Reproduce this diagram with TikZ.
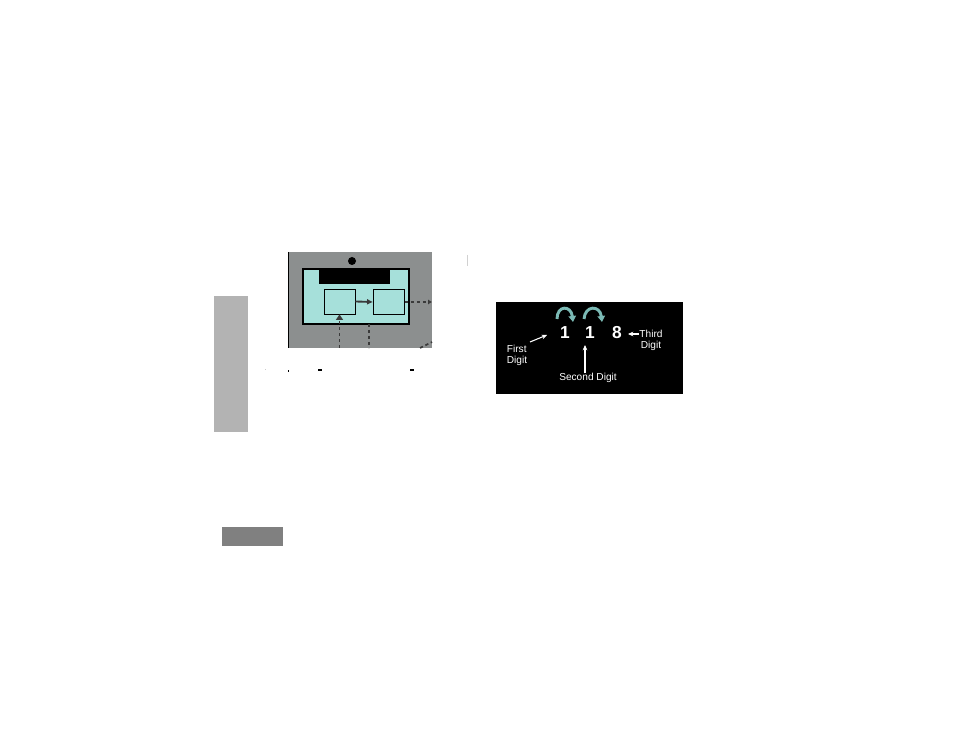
\documentclass[tikz,border=0pt]{standalone}
\usepackage{fontspec}
\setmainfont{Liberation Sans}
\usetikzlibrary{arrows,arrows.meta}
\usetikzlibrary{calc}
\definecolor{sidegray}{RGB}{179,179,179}
\definecolor{tabgray}{RGB}{128,128,128}
\definecolor{panelgray}{RGB}{140,143,143}
\definecolor{screencyan}{RGB}{166,224,218}
\definecolor{wiregray}{RGB}{58,58,58}
\definecolor{bendteal}{RGB}{123,186,181}
\colorlet{linegray}{sidegray!60}

\tikzset{
  inbox/.style={draw=black, fill=screencyan, inner sep=0pt, minimum width=23.5pt, minimum height=19pt},
  wire/.style={wiregray, line width=1.2pt, dash pattern=on 2.5pt off 2pt},
  digit/.style={white, inner sep=0pt, font=\fontsize{13}{14}\bfseries},
  lbl/.style={white, inner sep=0pt, font=\fontsize{7.6}{8.2}\selectfont},
  pointer/.style={white, line width=0.8pt, -{Stealth[length=4pt, width=3.5pt]}},
  turnarrow/.style={bendteal, line width=2.2pt, -{Triangle[length=4.5pt, width=5.5pt]}}
}

\begin{document}
\begin{tikzpicture}[x=0.75pt, y=-0.75pt]
    \useasboundingbox (0,0) rectangle (954,737);

    % side tab and bottom tab
    \fill[sidegray] (214,296) rectangle (248,432);
    \fill[tabgray] (222,527) rectangle (283,546);

    % left picture
    \fill[panelgray] (288,252) rectangle (432,348);
    \draw[black, line width=0.6pt] (288,252) -- (288,348);
    \fill[black] (352,261) circle (3pt);
    \draw[black, line width=0.8pt, fill=screencyan] (303,269) rectangle (409,324);
    \fill[black] (319,269) rectangle (390,284);
    \node[inbox] (boxa) at (339.5,301.5) {};
    \node[inbox] (boxb) at (389,302) {};
    \draw[wiregray, line width=1.4pt, -{Latex[length=4.5pt, width=4.5pt]}] (boxa.east) -- (boxb.west);
    \coordinate (outright) at (432,302);
    \draw[wire, -{Latex[length=3pt, width=4pt]}] (boxb.east) -- (outright);
    \coordinate (inbottom) at (339.5,348);
    \draw[wire, -{Triangle[length=4pt, width=5pt]}] (inbottom) -- (boxa.south);
    \draw[wire] (369,324) -- (369,348);
    \draw[wire] (420,348) -- (432,342);
    % cut off marks below
    \fill[black!20] (265,369) rectangle (266,370);
    \fill[black] (288,370) rectangle (289,372);
    \fill[black] (318,369) rectangle (322,371);
    \fill[black] (410,369) rectangle (414,371);
    \draw[linegray, line width=0.6pt] (467,255) -- (467,266);

    % right picture
    \fill[black] (496,302) rectangle (683,394);
    \node[digit] (da) at (565,333) {1};
    \node[digit] (db) at (590,333) {1};
    \node[digit] (dc) at (617,333) {8};

    \coordinate (bendastart) at (557,319);
    \coordinate (bendaend) at (573,322);
    \coordinate (bendbstart) at (584,319);
    \coordinate (bendbend) at (602,322);
    \draw[turnarrow] (bendastart) .. controls (557,305) and (571,305) .. (bendaend);
    \draw[turnarrow] (bendbstart) .. controls (585,305) and (600,305) .. (bendbend);

    \node[lbl, align=left] (lfirst) at (517,355) {First\\Digit};
    \node[lbl] (lsecond) at (588,378) {Second Digit};
    \node[lbl, align=center] (lthird) at (651,340) {Third\\Digit};

    \coordinate (firsttail) at (530,342);
    \coordinate (firsttip) at (547,335);
    \coordinate (secondtip) at (585,345);
    \coordinate (thirdtail) at (639,334);
    \coordinate (thirdtip) at (628,334);
    \draw[pointer] (firsttail) -- (firsttip);
    \draw[pointer] (lsecond.north -| secondtip) -- (secondtip);
    \draw[pointer] (thirdtail) -- (thirdtip);

\end{tikzpicture}
\end{document}
